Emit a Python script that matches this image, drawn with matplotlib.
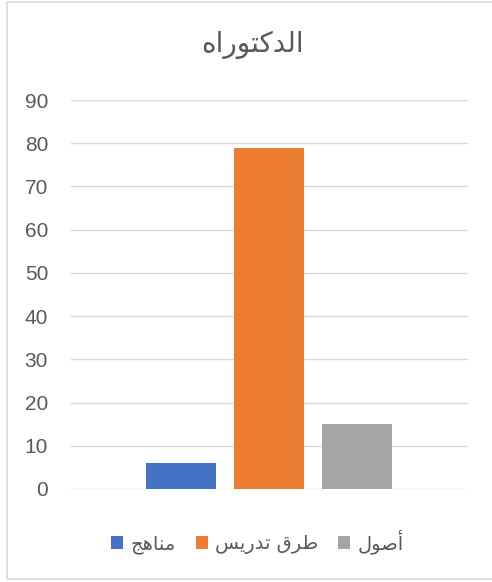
import matplotlib
matplotlib.use("Agg")
import matplotlib.pyplot as plt
from matplotlib.patches import Rectangle

# Arabic strings written in presentation forms, visual (left-to-right) order
title_text = "\uFEE9\uFE8D\uFEAD\uFEEE\uFE98\uFEDB\uFEAA\uFEDF\uFE8D"   # الدكتوراه
series_names = [
    "\uFE9E\uFEEB\uFE8E\uFEE8\uFEE3",                                   # مناهج
    "\uFEB2\uFEF3\uFEAD\uFEAA\uFE97 \uFED5\uFEAE\uFEC3",                 # طرق تدريس
    "\uFEDD\uFEEE\uFEBB\uFE83",                                         # أصول
]
values = [6, 79, 15]
colors = ["#4472C4", "#ED7D31", "#A5A5A5"]
yticks = [0, 10, 20, 30, 40, 50, 60, 70, 80, 90]

plt.rcParams['font.family'] = ['Liberation Sans', 'DejaVu Sans']

W, H = 492, 582
fig = plt.figure(figsize=(W/100, H/100), dpi=100)
fig.patch.set_facecolor("white")
fig.patches.append(Rectangle((6.5/W, (H-578.5)/H), (W+5-6.5)/W, (578.5-1.5)/H,
                             transform=fig.transFigure, fill=False,
                             edgecolor="#D9D9D9", linewidth=1.2))

ax = fig.add_axes([71/W, (H-489)/H, 397/W, (489-100)/H])
positions = [-1, 0, 1]
handles = []
for p, v, c, n in zip(positions, values, colors, series_names):
    h = ax.bar(p, v, width=70/88, color=c, label=n, zorder=3)
    handles.append(h)

ax.set_xlim(-198/88, 199/88)
ax.set_ylim(0, 90)
ax.set_yticks(yticks)
ax.set_xticks([])
ax.yaxis.grid(True, color="#D9D9D9", linewidth=1.0, zorder=0)
for s in ax.spines.values():
    s.set_visible(False)
ax.tick_params(axis='y', length=0, pad=16.5, labelsize=15, labelcolor="#595959")

fig.text(252/W, (H-45)/H, title_text, ha="center", va="center",
         fontsize=20, color="#595959", family=['DejaVu Sans'])

leg = fig.legend(handles=handles, labels=series_names, loc="center",
                 bbox_to_anchor=(257.5/W, (H-542)/H), ncol=3, frameon=False,
                 handlelength=0.62, handleheight=0.62, handletextpad=0.4,
                 columnspacing=1.0, prop={'family': ['DejaVu Sans'], 'size': 14})
for t in leg.get_texts():
    t.set_color("#595959")

fig.savefig("out.png", dpi=100)
